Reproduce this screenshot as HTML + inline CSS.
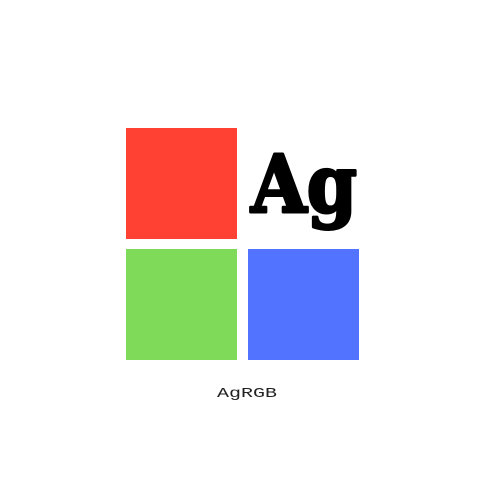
<!DOCTYPE html>
<html><head><style>
body{margin:0;width:500px;height:500px;background:#fff;position:relative;overflow:hidden}
div{position:absolute}
.ag{font-family:"DejaVu Serif","Liberation Serif",serif;font-weight:bold}
.br{font-family:"Liberation Mono","DejaVu Sans Mono",monospace}
</style></head><body>
<div style="left:126px;top:128px;width:111px;height:111px;background:#ff4133"></div>
<div style="left:126px;top:249px;width:111px;height:111px;background:#80da5a"></div>
<div style="left:248px;top:249px;width:111px;height:111px;background:#5273ff"></div>
<svg width="500" height="500" style="position:absolute;left:0;top:0">
<text class="ag" x="304" y="212" text-anchor="middle" textLength="106" lengthAdjust="spacingAndGlyphs" font-size="80" fill="#000" stroke="#000" stroke-width="3" stroke-linejoin="round">Ag</text>
<text class="br" x="247" y="397" text-anchor="middle" textLength="60" lengthAdjust="spacingAndGlyphs" font-size="14" fill="#222">AgRGB</text>
</svg>
</body></html>
